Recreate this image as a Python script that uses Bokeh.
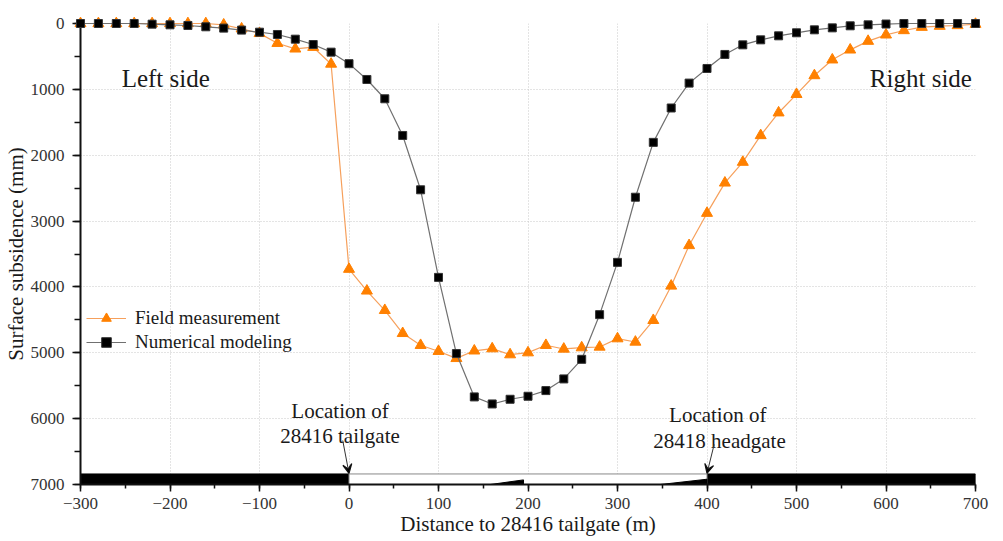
from bokeh.plotting import figure
from bokeh.models import (Range1d, FixedTicker, Legend, LegendItem, Arrow, VeeHead, Label)
from bokeh.embed import file_html
from bokeh.resources import INLINE

# ---------------- data ----------------
distance = list(range(-300, 701, 20))

field_measurement = [
    0, 0, 0, 0, 0, 0, 0, 0, 20, 80,
    150, 300, 385, 360, 615, 3730, 4060, 4355, 4705, 4886,
    4977, 5085, 4970, 4937, 5028, 4998, 4886, 4942, 4922, 4912,
    4785, 4836, 4507, 3985, 3370, 2880, 2420, 2105, 1700, 1355,
    1075, 790, 551, 400, 268, 172, 106, 56, 40, 30,
    10,
]

numerical_modeling = [
    0, 0, 0, 0, 10, 20, 30, 50, 70, 100,
    132, 167, 238, 319, 435, 610, 850, 1143, 1700, 2525,
    3855, 5012, 5670, 5777, 5706, 5660, 5574, 5397, 5099, 4421,
    3627, 2638, 1805, 1283, 905, 683, 470, 324, 248, 187,
    141, 96, 66, 35, 20, 8, 0, 0, 0, 0,
    0,
]

x_ticks = [-300, -200, -100, 0, 100, 200, 300, 400, 500, 600, 700]
y_ticks = [0, 1000, 2000, 3000, 4000, 5000, 6000, 7000]

# schematic of the coal seam at the bottom of the chart
seam_top = 6840
seam_bottom = 7000
pillar_left = [-300, 0]
pillar_right = [400, 700]
gob_x = [0, 400]
wedge1_x = [158, 195, 195]
wedge1_y = [7000, 6930, 7000]
wedge2_x = [348, 400, 400]
wedge2_y = [7000, 6920, 7000]

FONT = "Liberation Serif"
TXT = "#1a1a1a"

p = figure(width=1003, height=541, output_backend="svg", toolbar_location=None,
           x_range=Range1d(-300, 700), y_range=Range1d(7000, 0),
           min_border_left=79, min_border_right=28, min_border_top=23, min_border_bottom=57)
p.outline_line_color = None
p.background_fill_color = "white"
p.border_fill_color = "white"

# grid
for g in (p.xgrid, p.ygrid):
    g.grid_line_color = "#c8c8c8"
    g.grid_line_dash = "1 2"
    g.grid_line_width = 1
p.xgrid.ticker = FixedTicker(ticks=x_ticks)
p.ygrid.ticker = FixedTicker(ticks=y_ticks)

# axes
p.xaxis.ticker = FixedTicker(ticks=x_ticks, minor_ticks=list(range(-300, 701, 50)))
p.yaxis.ticker = FixedTicker(ticks=y_ticks, minor_ticks=list(range(0, 7001, 500)))
for ax in (p.xaxis, p.yaxis):
    ax.axis_line_width = 2
    ax.axis_line_color = "#111111"
    ax.major_tick_line_color = "#111111"
    ax.minor_tick_line_color = "#111111"
    ax.major_tick_line_width = 1.5
    ax.minor_tick_line_width = 1.5
    ax.major_tick_in = 0
    ax.minor_tick_in = 0
    ax.major_label_text_font = FONT
    ax.major_label_text_font_size = "17px"
    ax.major_label_text_color = "#333333"
    ax.axis_label_text_font = FONT
    ax.axis_label_text_font_size = "21px"
    ax.axis_label_text_font_style = "normal"
    ax.axis_label_text_color = TXT
    ax.axis_label_standoff = 0
p.xaxis.major_tick_out = 7
p.xaxis.minor_tick_out = 4
p.yaxis.major_tick_out = 8
p.yaxis.minor_tick_out = 6
p.xaxis.major_label_standoff = 6
p.yaxis.major_label_standoff = 8
p.xaxis.axis_label = "Distance to 28416 tailgate (m)"
p.yaxis.axis_label = "Surface subsidence (mm)"
p.xaxis.major_label_overrides = {t: ("\u2212" + str(-t) if t < 0 else str(t)) for t in x_ticks}

# coal seam schematic
p.quad(left=[pillar_left[0], pillar_right[0]], right=[pillar_left[1], pillar_right[1]],
       top=[seam_top, seam_top], bottom=[seam_bottom, seam_bottom],
       fill_color="black", line_color="black")
p.quad(left=[gob_x[0]], right=[gob_x[1]], top=[seam_top], bottom=[seam_bottom],
       fill_color="white", line_color="#888888", line_width=1)
p.patches(xs=[wedge1_x, wedge2_x], ys=[wedge1_y, wedge2_y], fill_color="black", line_color="black")

# series
l1 = p.line(distance, field_measurement, line_color="#F6A05C", line_width=1.2, level="overlay")
s1 = p.scatter(distance, field_measurement, marker="triangle", size=11,
               fill_color="#FF8000", line_color="#FF8000", level="overlay")
l2 = p.line(distance, numerical_modeling, line_color="#707070", line_width=1.2, level="overlay")
s2 = p.scatter(distance, numerical_modeling, marker="square", size=8,
               fill_color="black", line_color="#333333", level="overlay")

legend = Legend(items=[LegendItem(label="Field measurement", renderers=[l1, s1]),
                       LegendItem(label="Numerical modeling", renderers=[l2, s2])],
                location=(6, 130), border_line_color=None, background_fill_alpha=0,
                label_text_font=FONT, label_text_font_size="19px", label_text_color=TXT,
                glyph_width=40, glyph_height=24, label_height=24, spacing=0,
                padding=0, margin=0, label_standoff=9)
p.add_layout(legend)

# text annotations
def add_label(x, y, text, size="21px", align="center"):
    p.add_layout(Label(x=x, y=y, text=text, text_font=FONT, text_font_size=size,
                       text_color=TXT, text_align=align, text_baseline="alphabetic"))

add_label(-254, 835, "Left side", size="25px", align="left")
add_label(696, 835, "Right side", size="25px", align="right")
add_label(-10, 5891, "Location of")
add_label(-10, 6256, "28416 tailgate")
add_label(412, 5952, "Location of")
add_label(414, 6332, "28418 headgate")

p.add_layout(Arrow(x_start=-7, y_start=6332, x_end=0, y_end=6830,
                   line_color="#333333", line_width=1,
                   end=VeeHead(size=9, line_color="#111111", line_width=1.2)))
p.add_layout(Arrow(x_start=408, y_start=6392, x_end=400, y_end=6830,
                   line_color="#333333", line_width=1,
                   end=VeeHead(size=9, line_color="#111111", line_width=1.2)))

open("out.html", "w").write(file_html(p, INLINE))
